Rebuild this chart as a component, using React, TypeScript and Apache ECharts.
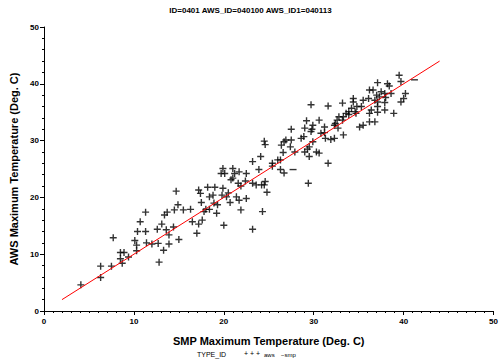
import React, { useEffect, useRef } from "react";
import * as echarts from "echarts";

const titleText = "ID=0401 AWS_ID=040100 AWS_ID1=040113";
const xAxisName = "SMP Maximum Temperature (Deg. C)";
const yAxisName = "AWS Maximum Temperature (Deg. C)";
const legendTitle = "TYPE_ID";
const legendAws = "aws";
const legendSmp = "smp";

// [SMP, AWS] pairs
const awsPoints: [number, number][] = [
  [4.1, 4.6], [6.3, 7.9], [7.5, 7.9], [6.3, 5.9], [7.7, 12.9], [8.5, 10.3], [8.9, 10.3],
  [8.5, 9.2], [8.7, 8.4], [9.4, 9.5], [10.1, 12.4], [10.3, 11.6], [10.3, 10.6], [10.4, 14.0],
  [10.7, 15.7], [11.3, 17.4], [11.3, 14.0], [11.4, 12.0], [12.0, 11.8], [12.7, 11.9], [12.8, 8.6],
  [12.6, 14.4], [13.1, 15.3], [13.3, 10.7], [13.4, 16.9], [13.7, 17.4], [13.6, 14.3], [13.9, 13.4],
  [13.9, 11.8], [14.4, 14.8], [14.5, 17.8], [14.7, 21.1], [14.9, 18.7], [15.0, 12.6], [15.5, 17.8],
  [16.3, 17.9], [16.5, 15.7], [17.0, 13.7], [17.2, 15.3], [17.4, 20.7], [17.5, 19.1], [17.6, 16.0],
  [17.2, 21.3], [17.8, 17.5], [18.2, 21.8], [18.4, 17.9], [18.8, 20.4], [19.0, 21.8], [19.2, 17.2],
  [18.9, 19.0], [19.8, 20.4], [19.9, 21.6], [20.0, 15.1], [20.3, 20.1], [20.5, 20.8], [20.7, 19.1],
  [20.8, 23.1], [21.6, 22.5], [21.7, 19.5], [21.9, 17.8], [18.0, 17.9], [19.3, 18.7], [21.4, 20.1],
  [21.9, 22.0], [18.4, 20.1], [19.9, 25.1], [20.1, 24.2], [19.7, 24.2], [21.0, 25.1], [21.2, 24.2],
  [21.7, 24.5], [21.0, 23.4], [22.5, 24.2], [22.4, 22.9], [22.5, 19.8], [23.2, 26.3], [23.2, 22.5],
  [23.6, 22.2], [23.9, 24.9], [24.1, 27.2], [24.2, 22.2], [24.3, 17.5], [24.5, 22.2], [24.6, 22.8],
  [24.8, 20.9], [24.5, 29.9], [24.6, 29.3], [25.4, 26.0], [25.4, 25.5], [26.3, 26.6], [26.0, 26.6],
  [26.4, 29.2], [26.7, 29.8], [26.3, 24.9], [26.7, 24.3], [26.6, 27.9], [26.9, 30.1], [27.5, 30.1],
  [27.4, 28.9], [27.9, 28.0], [28.6, 30.4], [23.2, 14.4], [27.5, 32.0], [29.7, 36.3], [31.6, 36.1],
  [33.2, 36.6], [34.4, 37.4], [34.4, 36.8], [34.8, 36.0], [35.3, 36.0], [35.5, 37.1], [36.1, 37.4],
  [36.2, 38.9], [34.2, 35.7], [33.9, 35.1], [34.6, 35.1], [33.6, 34.8], [34.7, 34.8], [33.9, 34.6],
  [32.8, 34.2], [32.6, 33.6], [33.2, 33.6], [32.4, 33.0], [32.7, 32.2], [32.3, 32.7], [30.6, 33.6],
  [29.2, 33.5], [29.9, 32.7], [29.7, 31.6], [29.8, 32.0], [29.0, 32.2], [28.9, 30.7], [31.2, 32.4],
  [31.2, 31.4], [30.8, 31.3], [29.9, 29.8], [29.5, 28.9], [29.3, 28.5], [29.0, 28.0], [30.3, 28.0],
  [30.6, 27.8], [31.3, 30.4], [31.9, 30.2], [32.3, 30.4], [31.6, 26.0], [33.3, 31.0], [35.1, 32.4],
  [35.5, 32.7], [36.2, 33.3], [36.2, 34.8], [29.4, 22.5], [33.3, 34.2], [29.5, 27.2], [37.1, 40.2],
  [38.2, 40.0], [38.4, 39.6], [39.5, 41.5], [39.7, 40.4], [40.2, 38.3], [40.0, 37.4], [39.7, 36.8],
  [36.6, 38.9], [37.5, 38.6], [37.9, 38.3], [38.6, 38.3], [37.0, 38.0], [37.3, 37.7], [38.0, 37.6],
  [36.8, 37.1], [37.1, 36.8], [37.9, 36.7], [37.1, 36.0], [37.1, 35.0], [37.9, 35.4], [38.9, 34.8],
  [36.8, 33.3], [36.4, 35.4],
];

const smpPoints: [number, number][] = [
  [27.7, 24.9], [41.2, 40.7],
];

// 1:1 reference line end points
const refLine: [number, number][] = [
  [2, 2], [44, 44],
];

const plusSymbol = "path://M4,0h2v10h-2zM0,4h10v2h-10z";
const dashSymbol = "path://M0,0h10v2h-10z";

export default function App() {
  const ref = useRef<HTMLDivElement>(null);
  useEffect(() => {
    if (!ref.current) return;
    const chart = echarts.init(ref.current, undefined, { renderer: "svg" });
    const font = "'Liberation Sans', Arial, sans-serif";
    chart.setOption({
      animation: false,
      backgroundColor: "#ffffff",
      title: {
        text: titleText,
        left: "center",
        top: 1,
        textStyle: { fontSize: 8, fontWeight: "bold", fontFamily: font, color: "#000" },
      },
      grid: { left: 36, right: 5, top: 27, bottom: 52, containLabel: false },
      xAxis: {
        type: "value",
        min: 0,
        max: 50,
        interval: 10,
        name: xAxisName,
        nameLocation: "middle",
        nameGap: 24,
        nameTextStyle: { fontSize: 11, fontWeight: "bold", fontFamily: font, color: "#000" },
        axisLine: { show: true, lineStyle: { color: "#000", width: 1 } },
        axisTick: { show: true, length: 4, lineStyle: { color: "#000" } },
        minorTick: { show: true, splitNumber: 10, length: 2, lineStyle: { color: "#000" } },
        axisLabel: { fontSize: 8, fontWeight: "bold", fontFamily: font, color: "#000", margin: 6 },
        splitLine: { show: false },
      },
      yAxis: {
        type: "value",
        min: 0,
        max: 50,
        interval: 10,
        name: yAxisName,
        nameLocation: "middle",
        nameGap: 25,
        nameTextStyle: { fontSize: 11, fontWeight: "bold", fontFamily: font, color: "#000" },
        axisLine: { show: true, lineStyle: { color: "#000", width: 1 } },
        axisTick: { show: true, length: 4, lineStyle: { color: "#000" } },
        minorTick: { show: true, splitNumber: 5, length: 2, lineStyle: { color: "#000" } },
        axisLabel: { fontSize: 8, fontWeight: "bold", fontFamily: font, color: "#000", margin: 5 },
        splitLine: { show: false },
      },
      series: [
        {
          name: "ref",
          type: "line",
          data: refLine,
          symbol: "none",
          lineStyle: { color: "#ff0000", width: 1 },
          z: 3,
        },
        {
          name: legendAws,
          type: "scatter",
          data: awsPoints,
          symbol: plusSymbol,
          symbolSize: 7,
          itemStyle: { color: "#000000" },
          z: 2,
        },
        {
          name: legendSmp,
          type: "scatter",
          data: smpPoints,
          symbol: dashSymbol,
          symbolSize: [7, 1.4],
          itemStyle: { color: "#000000" },
          z: 2,
        },
      ],
      graphic: [
        {
          type: "text",
          left: 197,
          top: 351,
          style: { text: legendTitle, fontSize: 7, fontFamily: font, fill: "#000" },
        },
        {
          type: "text",
          left: 244,
          top: 350,
          style: { text: "+ + +", fontSize: 7, fontFamily: font, fill: "#000" },
        },
        {
          type: "text",
          left: 264,
          top: 352,
          style: { text: legendAws, fontSize: 6, fontFamily: font, fill: "#000" },
        },
        {
          type: "text",
          left: 281,
          top: 352,
          style: { text: "\u2212" + legendSmp, fontSize: 6, fontFamily: font, fill: "#000" },
        },
      ],
    });
    return () => chart.dispose();
  }, []);
  return (
    <div
      ref={ref}
      style={{ position: "fixed", left: 0, top: 0, width: 501, height: 363, background: "#fff" }}
    />
  );
}
